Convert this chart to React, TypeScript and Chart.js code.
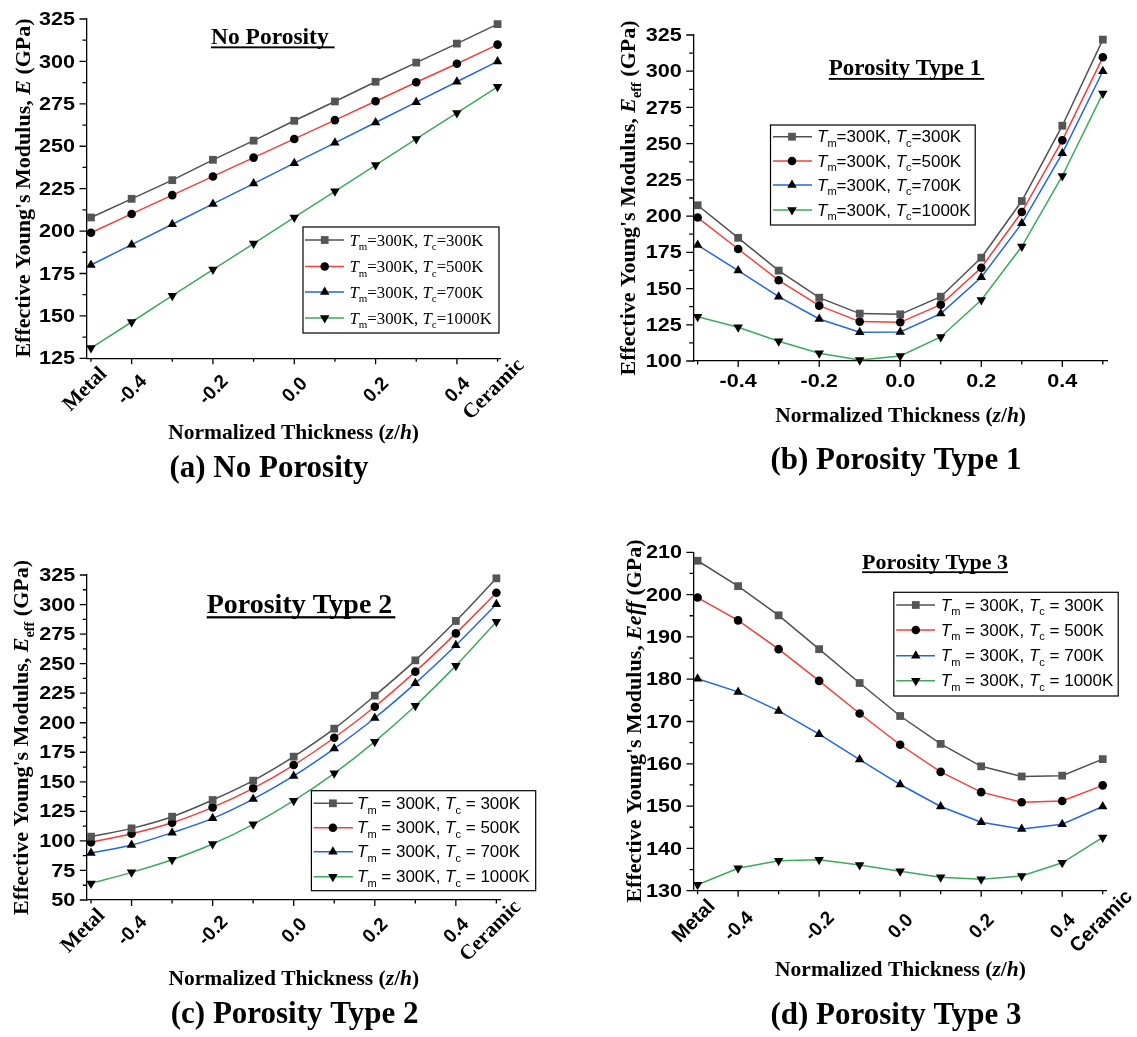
import React, { useEffect, useRef } from 'react';
import { Chart, registerables } from 'chart.js';

Chart.register(...registerables);

const SANS = '"Liberation Sans", Arial, Helvetica, sans-serif';
const SERIF = '"Liberation Serif", "Times New Roman", Times, serif';

// ---------- data ----------
const thickness = [-0.5, -0.4, -0.3, -0.2, -0.1, 0, 0.1, 0.2, 0.3, 0.4, 0.5];
const xMajorTicks = [-0.4, -0.2, 0, 0.2, 0.4];
const xMinorTicks = [-0.5, -0.3, -0.1, 0.1, 0.3, 0.5];
const xNumberLabels = ['-0.4', '-0.2', '0.0', '0.2', '0.4'];
const xEndLabels = ['Metal', 'Ceramic'];
const ceramicTemps = ['300K', '500K', '700K', '1000K'];

// (a) No porosity
const noPor300 = [208, 219, 230, 242, 253.3, 265, 276.4, 288, 299.3, 310.5, 322];
const noPor500 = [199, 210.1, 221.2, 232.2, 243.3, 254.3, 265.4, 276.5, 287.7, 298.6, 309.9];
const noPor700 = [180, 192, 204, 216, 228, 240, 252, 264, 276, 288, 300];
const noPor1000 = [131, 146.4, 161.9, 177.3, 192.6, 208, 223.4, 238.9, 254.3, 269.6, 285];
const yTicksA = [125, 150, 175, 200, 225, 250, 275, 300, 325];

// (b) Porosity type 1
const type1_300 = [207.5, 185, 162.4, 143.7, 132.7, 132.2, 144.4, 171.3, 210.4, 262.4, 321.8];
const type1_500 = [199, 177.3, 155.7, 138.2, 127.2, 126.7, 138.9, 164.4, 202.8, 252.3, 309.6];
const type1_700 = [180, 162.4, 144.4, 129, 119.8, 120, 132.7, 157.8, 195, 243.3, 300];
const type1_1000 = [130.6, 123.3, 113.6, 105.3, 100.7, 103.5, 116.6, 142.1, 179, 227.7, 284.7];
const yTicksB = [100, 125, 150, 175, 200, 225, 250, 275, 300, 325];

// (c) Porosity type 2
const type2_300 = [103.6, 110.6, 120.5, 134.6, 151, 171.3, 195, 222.9, 252.8, 286.1, 322.2];
const type2_500 = [98.8, 106.1, 115.4, 128.4, 144.5, 164.2, 187.3, 213.5, 243.2, 275.6, 310];
const type2_700 = [89.8, 96.5, 107, 119.1, 135.4, 155, 178.1, 204, 233.3, 265.5, 300.2];
const type2_1000 = [64, 73.4, 84.1, 97.4, 114, 134, 157.2, 184, 214.4, 248.3, 285.5];
const yTicksC = [50, 75, 100, 125, 150, 175, 200, 225, 250, 275, 300, 325];

// (d) Porosity type 3
const type3_300 = [208, 202, 195.1, 187.1, 179.1, 171.3, 164.7, 159.4, 157, 157.2, 161.1];
const type3_500 = [199.3, 193.9, 187.1, 179.6, 171.9, 164.5, 158.1, 153.3, 150.9, 151.2, 154.9];
const type3_700 = [180.1, 177, 172.5, 167, 161, 155.1, 149.9, 146.2, 144.6, 145.7, 149.9];
const type3_1000 = [131.4, 135.3, 137.1, 137.3, 136.1, 134.6, 133.2, 132.7, 133.5, 136.6, 142.6];
const yTicksD = [130, 140, 150, 160, 170, 180, 190, 200, 210];

// ---------- styles ----------
const lineColors = ['#505050', '#f0403c', '#2266e0', '#3caa5a'];
const markerColors = ['#555555', '#000000', '#000000', '#000000'];
const pointStyles = ['rect', 'circle', 'triangle', 'triangle'];
const pointRadii = [5.5, 4.3, 5.5, 5.5];
const pointRotations = [0, 0, 0, 180];

type Run = { t: string; i?: boolean; sub?: boolean };
type RichOpts = {
  size: number; family: string; bold?: boolean; align?: 'left' | 'center' | 'right';
  rot?: number; sx?: number; color?: string; underline?: boolean; ulExtra?: number; ulWidth?: number;
};

function drawRich(ctx: CanvasRenderingContext2D, runs: Run[], x: number, y: number, o: RichOpts) {
  const size = o.size;
  const subSize = size * 0.65;
  ctx.save();
  ctx.translate(x, y);
  if (o.rot) ctx.rotate(o.rot);
  if (o.sx && o.sx !== 1) ctx.scale(o.sx, 1);
  ctx.fillStyle = o.color || '#000';
  ctx.textAlign = 'left';
  ctx.textBaseline = 'alphabetic';
  const measured = runs.map((r) => {
    const f = `${r.i ? 'italic ' : ''}${o.bold ? 'bold ' : ''}${r.sub ? subSize : size}px ${o.family}`;
    ctx.font = f;
    return { r, f, w: ctx.measureText(r.t).width };
  });
  const W = measured.reduce((s, m) => s + m.w, 0);
  let cx = o.align === 'left' ? 0 : o.align === 'right' ? -W : -W / 2;
  const x0 = cx;
  const base = size * 0.34;
  for (const m of measured) {
    ctx.font = m.f;
    ctx.fillText(m.r.t, cx, base + (m.r.sub ? size * 0.27 : 0));
    cx += m.w;
  }
  if (o.underline) {
    const uw = o.ulWidth || Math.max(1.5, size * 0.08);
    ctx.fillRect(x0, base + size * 0.12, W + (o.ulExtra || 0), uw);
  }
  ctx.restore();
}

function drawMarker(ctx: CanvasRenderingContext2D, k: number, x: number, y: number) {
  ctx.save();
  ctx.fillStyle = markerColors[k];
  ctx.beginPath();
  const style = pointStyles[k];
  const r = pointRadii[k];
  if (style === 'rect') {
    const s = r * Math.SQRT1_2;
    ctx.rect(x - s, y - s, 2 * s, 2 * s);
  } else if (style === 'circle') {
    ctx.arc(x, y, r, 0, Math.PI * 2);
  } else {
    const d = pointRotations[k] === 180 ? -1 : 1;
    ctx.moveTo(x, y - d * r);
    ctx.lineTo(x + r * 0.866, y + d * r / 2);
    ctx.lineTo(x - r * 0.866, y + d * r / 2);
    ctx.closePath();
  }
  ctx.fill();
  ctx.restore();
}

interface PanelCfg {
  id: string;
  box: [number, number, number, number];
  area: [number, number, number, number];
  xRange: [number, number];
  yRange: [number, number];
  yTicks: number[];
  series: number[][];
  smooth: boolean;
  title: { text: string; x: number; y: number; size: number; ulExtra: number };
  legend: { box: [number, number, number, number]; rows: number[]; line: [number, number]; marker: number; text: number; family: string; size: number; spaced: boolean };
  yTitle: { runs: Run[]; x: number; y: number };
  xTitle: { x: number; y: number };
  caption: { text: string; x: number; y: number };
  xLabels: { mode: 'rot' | 'flat'; numDy: number; endDy: number; endDx: [number, number]; endFamily: string; endSize: number };
}

const Y_TITLE_E: Run[] = [{ t: "Effective Young's Modulus, " }, { t: 'E', i: true }, { t: ' (GPa)' }];
const Y_TITLE_EEFF_SUB: Run[] = [{ t: "Effective Young's Modulus, " }, { t: 'E', i: true }, { t: 'eff', sub: true }, { t: ' (GPa)' }];
const Y_TITLE_EEFF: Run[] = [{ t: "Effective Young's Modulus, " }, { t: 'Eeff', i: true }, { t: ' (GPa)' }];
const X_TITLE: Run[] = [{ t: 'Normalized Thickness (' }, { t: 'z', i: true }, { t: '/' }, { t: 'h', i: true }, { t: ')' }];

const panels: PanelCfg[] = [
  {
    id: 'a', box: [0, 0, 568, 500], area: [86.5, 19, 500, 358.3],
    xRange: [-0.511, 0.506], yRange: [125, 325], yTicks: yTicksA,
    series: [noPor300, noPor500, noPor700, noPor1000], smooth: false,
    title: { text: 'No Porosity', x: 269.8, y: 35.6, size: 23.5, ulExtra: 6 },
    legend: { box: [303, 227, 499, 333], rows: [240, 266.5, 292, 318], line: [305, 344], marker: 324.7, text: 349.5, family: SERIF, size: 16.8, spaced: false },
    yTitle: { runs: Y_TITLE_E, x: 23, y: 188 },
    xTitle: { x: 293.6, y: 432 },
    caption: { text: '(a) No Porosity', x: 269, y: 466 },
    xLabels: { mode: 'rot', numDy: 31, endDy: 30, endDx: [-7, -5], endFamily: SERIF, endSize: 21 },
  },
  {
    id: 'b', box: [568, 0, 569, 500], area: [693.2, 35, 1107.3, 361],
    xRange: [-0.511, 0.511], yRange: [100, 325], yTicks: yTicksB,
    series: [type1_300, type1_500, type1_700, type1_1000], smooth: false,
    title: { text: 'Porosity Type 1', x: 905, y: 67.4, size: 23, ulExtra: 3 },
    legend: { box: [770.5, 125, 975.2, 225], rows: [136.7, 161, 185, 210], line: [773, 812], marker: 792, text: 817, family: SANS, size: 17, spaced: false },
    yTitle: { runs: Y_TITLE_EEFF_SUB, x: 628, y: 198 },
    xTitle: { x: 900.6, y: 415 },
    caption: { text: '(b) Porosity Type 1', x: 896, y: 458.5 },
    xLabels: { mode: 'flat', numDy: 20, endDy: 20, endDx: [0, 0], endFamily: SANS, endSize: 18 },
  },
  {
    id: 'c', box: [0, 500, 568, 537], area: [86.8, 575, 500, 900],
    xRange: [-0.5104, 0.5089], yRange: [50, 325], yTicks: yTicksC,
    series: [type2_300, type2_500, type2_700, type2_1000], smooth: true,
    title: { text: 'Porosity Type 2', x: 299.5, y: 603.3, size: 28, ulExtra: 3 },
    legend: { box: [311.4, 790.7, 535.7, 890.7], rows: [803.3, 827.7, 851.7, 876.7], line: [313.6, 352.9], marker: 332.9, text: 357, family: SANS, size: 17, spaced: true },
    yTitle: { runs: Y_TITLE_EEFF_SUB, x: 20.5, y: 737.5 },
    xTitle: { x: 293.8, y: 978 },
    caption: { text: '(c) Porosity Type 2', x: 294.6, y: 1012.7 },
    xLabels: { mode: 'rot', numDy: 30, endDy: 30, endDx: [-9, -7], endFamily: SERIF, endSize: 21 },
  },
  {
    id: 'd', box: [568, 500, 569, 537], area: [693.5, 552.3, 1106.8, 890.7],
    xRange: [-0.5101, 0.5101], yRange: [130, 210], yTicks: yTicksD,
    series: [type3_300, type3_500, type3_700, type3_1000], smooth: false,
    title: { text: 'Porosity Type 3', x: 935, y: 561.2, size: 22, ulExtra: 0 },
    legend: { box: [893.8, 592.3, 1118.2, 696], rows: [605, 630, 655.7, 680.7], line: [896.2, 935], marker: 915.8, text: 940.8, family: SANS, size: 17, spaced: true },
    yTitle: { runs: Y_TITLE_EEFF, x: 634, y: 721 },
    xTitle: { x: 900.5, y: 969 },
    caption: { text: '(d) Porosity Type 3', x: 896, y: 1013.7 },
    xLabels: { mode: 'rot', numDy: 35, endDy: 30, endDx: [-4.6, -2], endFamily: SANS, endSize: 20 },
  },
];

function legendRuns(temp: string, spaced: boolean): Run[] {
  const eq = spaced ? ' = ' : '=';
  return [
    { t: 'T', i: true }, { t: 'm', sub: true }, { t: `${eq}300K, ` },
    { t: 'T', i: true }, { t: 'c', sub: true }, { t: `${eq}${temp}` },
  ];
}

function makeDecor(cfg: PanelCfg) {
  const ox = cfg.box[0];
  const oy = cfg.box[1];
  return {
    id: 'decor_' + cfg.id,
    afterDraw(chart: any) {
      const ctx: CanvasRenderingContext2D = chart.ctx;
      const xs = chart.scales.x;
      const ys = chart.scales.y;
      const area = chart.chartArea;
      ctx.save();
      ctx.strokeStyle = '#000';
      ctx.lineWidth = 1.3;
      // y ticks (major + minor), outward
      const yt = cfg.yTicks;
      ctx.beginPath();
      yt.forEach((v, i) => {
        const py = ys.getPixelForValue(v);
        ctx.moveTo(area.left - 7, py);
        ctx.lineTo(area.left, py);
        if (i < yt.length - 1) {
          const pm = ys.getPixelForValue((v + yt[i + 1]) / 2);
          ctx.moveTo(area.left - 4, pm);
          ctx.lineTo(area.left, pm);
        }
      });
      // x ticks
      xMajorTicks.forEach((v) => {
        const px = xs.getPixelForValue(v);
        ctx.moveTo(px, area.bottom);
        ctx.lineTo(px, area.bottom + 6);
      });
      xMinorTicks.forEach((v) => {
        const px = xs.getPixelForValue(v);
        ctx.moveTo(px, area.bottom);
        ctx.lineTo(px, area.bottom + 3.5);
      });
      ctx.stroke();

      // y tick labels
      yt.forEach((v) => {
        drawRich(ctx, [{ t: String(v) }], area.left - 11.5, ys.getPixelForValue(v), {
          size: 18, family: SANS, bold: true, align: 'right', sx: 1.2,
        });
      });

      // x tick labels
      const xl = cfg.xLabels;
      if (xl.mode === 'flat') {
        xMajorTicks.forEach((v, i) => {
          drawRich(ctx, [{ t: xNumberLabels[i] }], xs.getPixelForValue(v), area.bottom + xl.numDy, {
            size: 18, family: SANS, bold: true, align: 'center', sx: 1.2,
          });
        });
      } else {
        const rot = -Math.PI / 4;
        xMajorTicks.forEach((v, i) => {
          drawRich(ctx, [{ t: xNumberLabels[i] }], xs.getPixelForValue(v), area.bottom + xl.numDy, {
            size: 19, family: SANS, bold: true, align: 'center', rot,
          });
        });
        [-0.5, 0.5].forEach((v, i) => {
          drawRich(ctx, [{ t: xEndLabels[i] }], xs.getPixelForValue(v) + xl.endDx[i], area.bottom + xl.endDy, {
            size: xl.endSize, family: xl.endFamily, bold: true, align: 'center', rot,
          });
        });
      }

      // axis titles
      drawRich(ctx, cfg.yTitle.runs, cfg.yTitle.x - ox, cfg.yTitle.y - oy, {
        size: 22, family: SERIF, bold: true, align: 'center', rot: -Math.PI / 2,
      });
      drawRich(ctx, X_TITLE, cfg.xTitle.x - ox, cfg.xTitle.y - oy, {
        size: 21.5, family: SERIF, bold: true, align: 'center',
      });

      // panel title (underlined)
      drawRich(ctx, [{ t: cfg.title.text }], cfg.title.x - ox, cfg.title.y - oy, {
        size: cfg.title.size, family: SERIF, bold: true, align: 'center', underline: true, ulExtra: cfg.title.ulExtra,
      });

      // legend
      const lg = cfg.legend;
      const [bl, bt, br, bb] = lg.box;
      ctx.fillStyle = '#fff';
      ctx.fillRect(bl - ox, bt - oy, br - bl, bb - bt);
      ctx.strokeStyle = '#000';
      ctx.lineWidth = 1.2;
      ctx.strokeRect(bl - ox, bt - oy, br - bl, bb - bt);
      lg.rows.forEach((ry, k) => {
        const y = ry - oy;
        ctx.strokeStyle = lineColors[k];
        ctx.lineWidth = 1.5;
        ctx.beginPath();
        ctx.moveTo(lg.line[0] - ox, y);
        ctx.lineTo(lg.line[1] - ox, y);
        ctx.stroke();
        drawMarker(ctx, k, lg.marker - ox, y);
        drawRich(ctx, legendRuns(ceramicTemps[k], lg.spaced), lg.text - ox, y, {
          size: lg.size, family: lg.family, align: 'left',
        });
      });

      // caption
      drawRich(ctx, [{ t: cfg.caption.text }], cfg.caption.x - ox, cfg.caption.y - oy, {
        size: 31, family: SERIF, bold: true, align: 'center',
      });
      ctx.restore();
    },
  };
}

function Panel({ cfg }: { cfg: PanelCfg }) {
  const ref = useRef<HTMLCanvasElement>(null);
  useEffect(() => {
    const canvas = ref.current;
    if (!canvas) return;
    const [, , bw, bh] = cfg.box;
    const [l, t, r, b] = cfg.area;
    const lx = l - cfg.box[0];
    const rx = r - cfg.box[0];
    const ty = t - cfg.box[1];
    const by = b - cfg.box[1];
    const datasets = cfg.series.map((s, k) => ({
      label: ceramicTemps[k],
      data: thickness.map((x, j) => ({ x, y: s[j] })),
      borderColor: lineColors[k],
      borderWidth: 1.5,
      pointStyle: pointStyles[k],
      pointRotation: pointRotations[k],
      pointRadius: pointRadii[k],
      pointBackgroundColor: markerColors[k],
      pointBorderColor: markerColors[k],
      pointBorderWidth: 0,
      tension: 0,
      cubicInterpolationMode: cfg.smooth ? 'monotone' : 'default',
      clip: false,
      fill: false,
    }));
    const chart = new Chart(canvas, {
      type: 'line',
      data: { datasets } as any,
      options: {
        animation: false,
        responsive: false,
        maintainAspectRatio: false,
        events: [],
        layout: { padding: { left: 0, top: ty, right: bw - rx, bottom: 0 } },
        plugins: { legend: { display: false }, tooltip: { enabled: false }, title: { display: false } },
        scales: {
          x: {
            type: 'linear', min: cfg.xRange[0], max: cfg.xRange[1],
            grid: { display: false }, ticks: { display: false },
            border: { display: true, color: '#000', width: 1.3 },
            afterFit: (s: any) => { s.height = bh - by; },
          },
          y: {
            type: 'linear', min: cfg.yRange[0], max: cfg.yRange[1],
            grid: { display: false }, ticks: { display: false },
            border: { display: true, color: '#000', width: 1.3 },
            afterFit: (s: any) => { s.width = lx; },
          },
        },
      } as any,
      plugins: [makeDecor(cfg)],
    });
    return () => chart.destroy();
  }, [cfg]);
  return (
    <canvas
      ref={ref}
      width={cfg.box[2]}
      height={cfg.box[3]}
      style={{ position: 'absolute', left: cfg.box[0], top: cfg.box[1], width: cfg.box[2], height: cfg.box[3] }}
    />
  );
}

export default function App() {
  return (
    <div style={{ position: 'absolute', left: 0, top: 0, width: 1137, height: 1037, background: '#fff', overflow: 'hidden' }}>
      {panels.map((p) => (
        <Panel key={p.id} cfg={p} />
      ))}
    </div>
  );
}
